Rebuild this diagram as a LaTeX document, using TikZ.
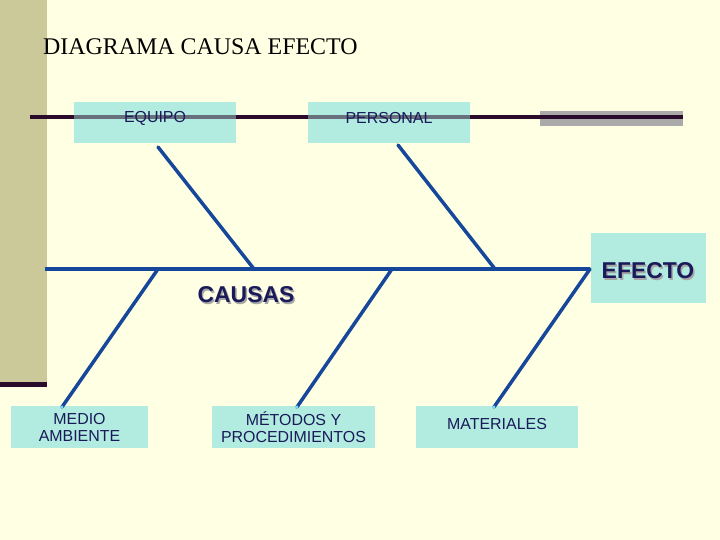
\documentclass[tikz,border=0pt]{standalone}
\usepackage{fontspec}
\setmainfont{Liberation Serif}
\newfontfamily\arialf{Liberation Sans}
\definecolor{bgc}{HTML}{FFFFE3}
\definecolor{barc}{HTML}{CBC89A}
\definecolor{darkc}{HTML}{2A0B2B}
\definecolor{spinec}{HTML}{17479A}
\definecolor{boxc}{HTML}{B2EBDF}
\definecolor{txtc}{HTML}{1A1A5A}
\definecolor{grayc}{HTML}{AAAAAA}
\tikzset{
  cbox/.style={fill=boxc, draw=none, inner sep=0pt},
  lbl/.style={font=\arialf\fontsize{16}{20}\selectfont, text=txtc, align=center, inner sep=0pt},
  big/.style={font=\arialf\bfseries\fontsize{23}{26}\selectfont, text=txtc, inner sep=0pt},
  shad/.style={font=\arialf\bfseries\fontsize{23}{26}\selectfont, text=black!35, inner sep=0pt},
  bone/.style={draw=spinec, line width=3.5pt, line cap=round},
  topline/.style={draw=darkc, line width=3.5pt},
  tipdot/.style={fill=cyan!50!white, draw=none}
}
\begin{document}
\begin{tikzpicture}[x=1bp,y=-1bp]
\fill[bgc] (0,0) rectangle (720,540);
\useasboundingbox (0,0) rectangle (720,540);
% left bar
\fill[barc] (0,0) rectangle (47,383);
\fill[darkc] (0,382) rectangle (47,387);
% title
\node[anchor=base west, inner sep=0pt, font=\fontsize{24}{28}\selectfont] (title) at (43,55) {DIAGRAMA CAUSA EFECTO};
% top line and boxes
\fill[grayc] (540,111) rectangle (683,126);
\coordinate (tl0) at (30,117);
\coordinate (tl1) at (683,117);
\draw[topline] (tl0) -- (tl1);
\node[cbox, minimum width=162bp, minimum height=41bp] (equipo) at (155,122.5) {};
\node[cbox, minimum width=162bp, minimum height=41bp] (personal) at (389,122.5) {};
\draw[topline, draw opacity=0.55] (tl0) -- (tl1);
\node[lbl] (equipot) at (155,118) {EQUIPO};
\node[lbl] (personalt) at (389,118) {PERSONAL};
% effect box
\node[cbox, minimum width=115bp, minimum height=70bp] (efecto) at (648.5,268) {};
\node[shad] at (649.5,272.5) {EFECTO};
\node[big] (efectot) at (648,271) {EFECTO};
% bottom boxes
\node[cbox, minimum width=137bp, minimum height=42bp] (medio) at (79.5,427) {};
\node[lbl] (mediot) at (79.5,427) {MEDIO\\[-3pt]AMBIENTE};
\node[cbox, minimum width=163bp, minimum height=42bp] (metodos) at (293.5,427) {};
\node[lbl] (metodost) at (293.5,427) {MÉTODOS Y\\[-3pt]PROCEDIMIENTOS};
\node[cbox, minimum width=162bp, minimum height=42bp] (materiales) at (497,427) {};
\node[lbl] (materialest) at (497,424) {MATERIALES};
% spine
\coordinate (s0) at (45,269);
\coordinate (s1) at (158,269);
\coordinate (s2) at (254,269);
\coordinate (s3) at (392,269);
\coordinate (s4) at (495,269);
\coordinate (s5) at (590,269);
\draw[bone, line cap=butt] (s0) -- (s5);
% upper bones
\coordinate (u1) at (158,147);
\coordinate (u2) at (398,145);
\draw[bone] (u1) -- (s2);
\draw[bone] (u2) -- (s4);
% lower bones
\coordinate (d1) at (62,407);
\coordinate (d2) at (297,407);
\coordinate (d3) at (494,407);
\draw[bone] (s1) -- (d1);
\draw[bone] (s3) -- (d2);
\draw[bone] (s5) -- (d3);
\fill[tipdot] (d1) circle (1.6);
\fill[tipdot] (d2) circle (1.6);
\fill[tipdot] (d3) circle (1.6);
% causas
\node[shad] at (247.5,296.5) {CAUSAS};
\node[big] (causas) at (246,295) {CAUSAS};
\end{tikzpicture}
\end{document}
